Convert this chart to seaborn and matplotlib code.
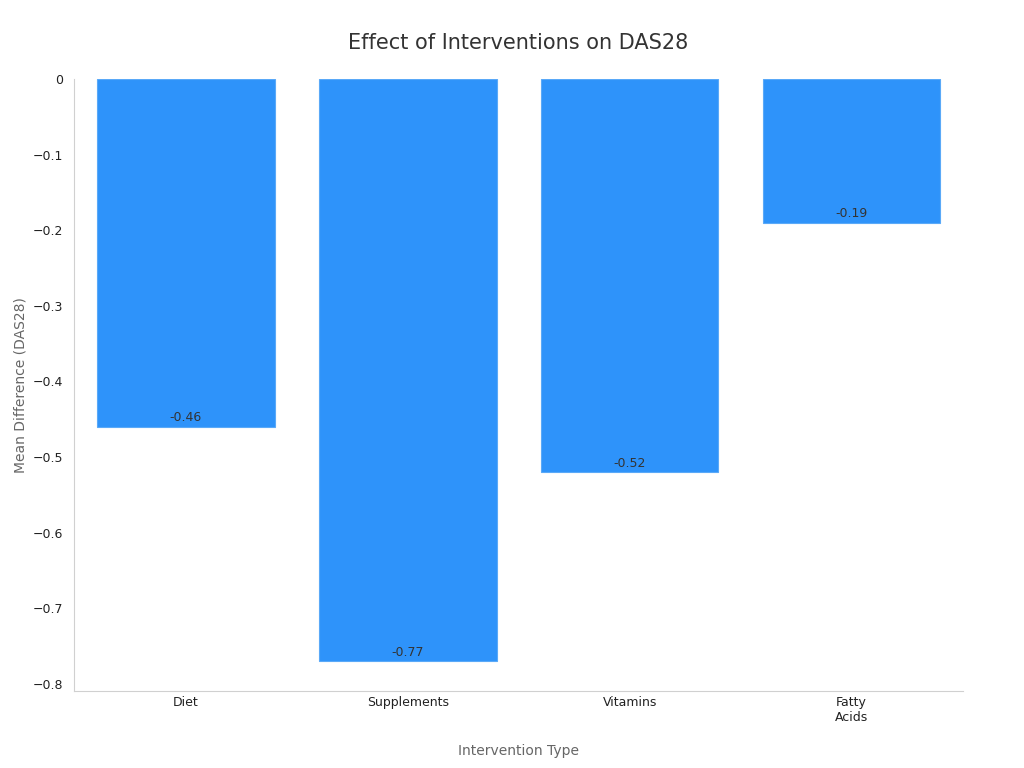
import matplotlib
matplotlib.use("Agg")
import matplotlib.pyplot as plt
import seaborn as sns
import pandas as pd
from matplotlib.ticker import FuncFormatter

categories = ["Diet", "Supplements", "Vitamins", "Fatty\nAcids"]
values = [-0.46, -0.77, -0.52, -0.19]

df = pd.DataFrame({"Intervention": categories, "Mean": values})

sns.set_style("white")
fig = plt.figure(figsize=(10.24, 7.68), dpi=100)
ax = fig.add_axes([0.072, 0.100, 0.868, 0.797])

sns.barplot(data=df, x="Intervention", y="Mean", color="#2E93FA", saturation=1,
            width=0.8, ax=ax, edgecolor="#5AA9F8", linewidth=0.8)

for i, v in enumerate(values):
    ax.text(i, v + 0.003, f"{v:.2f}", ha="center", va="bottom", fontsize=9, color="#333333")

ax.set_ylim(-0.81, 0)
ax.set_xlim(-0.505, 3.5)
ax.set_yticks([0, -0.1, -0.2, -0.3, -0.4, -0.5, -0.6, -0.7, -0.8])
ax.yaxis.set_major_formatter(FuncFormatter(lambda v, p: "0" if abs(v) < 1e-9 else f"{v:.1f}".replace("-", "\u2212")))
ax.tick_params(axis="both", labelsize=9, colors="#222222", length=4)
ax.tick_params(axis="y", color="#999999")
ax.tick_params(axis="x", length=0)

ax.set_xlabel("Intervention Type", fontsize=10, color="#666666", labelpad=14)
ax.set_ylabel("Mean Difference (DAS28)", fontsize=10, color="#666666")
ax.set_title("Effect of Interventions on DAS28", fontsize=15, color="#333333", pad=22)

for s in ["top", "right"]:
    ax.spines[s].set_visible(False)
for s in ["left", "bottom"]:
    ax.spines[s].set_color("#D0D0D0")

fig.savefig("out.png", dpi=100)
